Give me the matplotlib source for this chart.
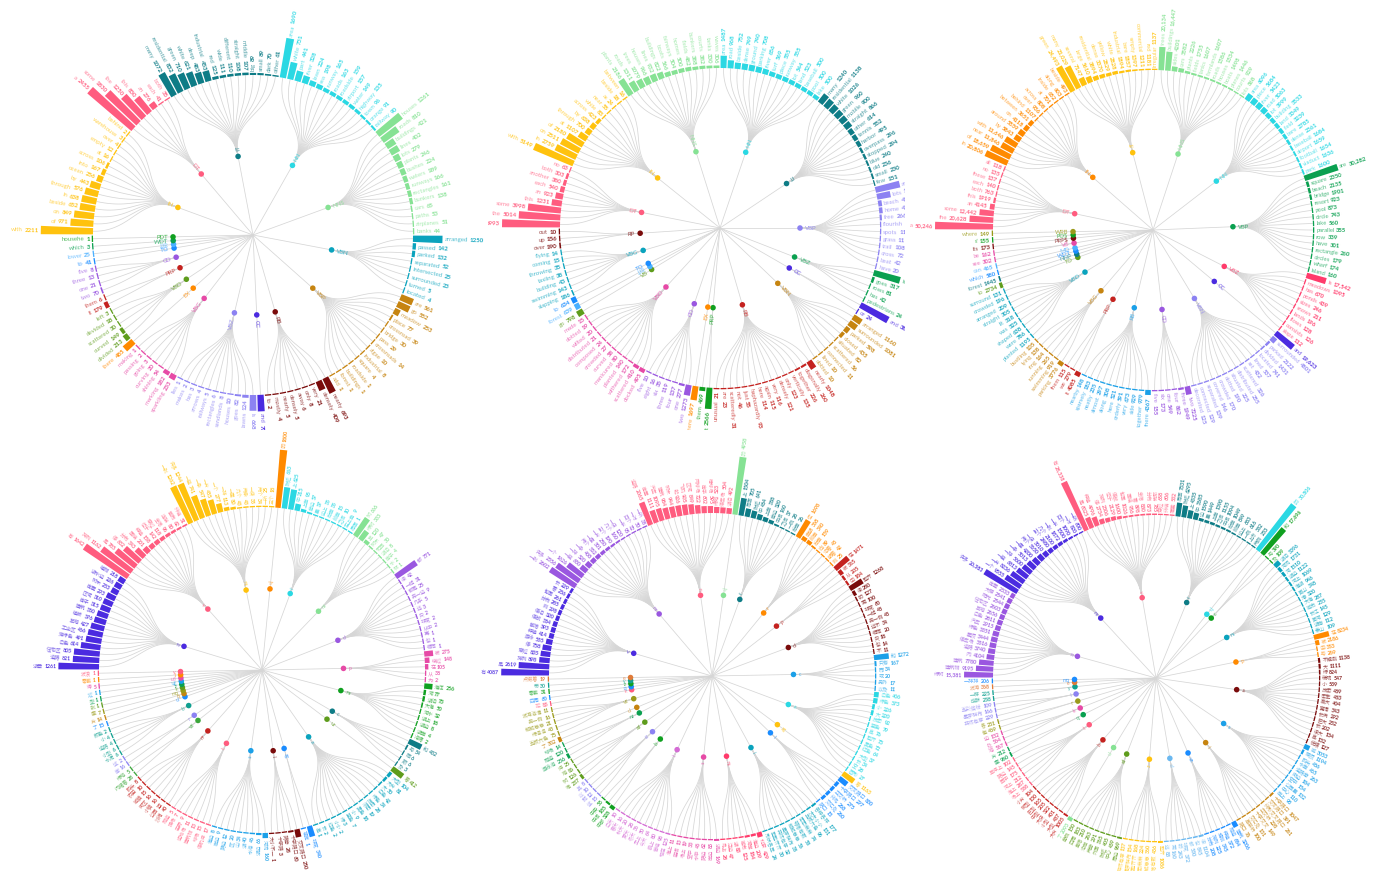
import numpy as np
import matplotlib
matplotlib.use("Agg")
import matplotlib.pyplot as plt
from matplotlib.patches import Wedge
from matplotlib.collections import LineCollection, PatchCollection
from matplotlib.font_manager import FontProperties

plt.rcParams['font.family'] = ['Lato', 'Noto Sans CJK SC', 'DejaVu Sans']

W, H = 1376, 871

# palette
YEL, PNK, TEA, CYA, LGR = '#ffc20e', '#ff5c7f', '#0e7c86', '#2bd8e3', '#86e294'
BTE, OCH, MAR, IND, LAV = '#0aa3bd', '#c68410', '#7a0b0b', '#4b2be0', '#8c82f2'
MAG, ORA, OLI, RED, PUR = '#e64aa6', '#ff8a00', '#5e9c1c', '#c4221f', '#9a57e0'
BLU, SKY, GRN, GR2, OL2 = '#1a8cff', '#1ba0e8', '#0aa050', '#10a020', '#9a9a1a'
LBL, TGR, ORB, ORC, PRD = '#4ab0ff', '#10a090', '#e07b39', '#d46bd4', '#ff3b6b'

# ---- panel 1: English captions, set A ----
p1_tags = ['IN', 'DT', 'JJ', 'NN', 'NNS', 'VBN', 'VBP', 'RB', 'CC', 'VBZ', 'VBG',
           'EX', 'VBD', 'PRP', 'CD', 'TO', 'JJR', 'WDT', 'PDT']
p1_colors = [YEL, PNK, TEA, CYA, LGR, BTE, OCH, MAR, IND, LAV, MAG,
             ORA, OLI, RED, PUR, BLU, LBL, GRN, GR2]
p1_leaves = [
    [('with', 2211), ('of', 971), ('on', 849), ('beside', 652), ('in', 638), ('through', 576),
     ('by', 443), ('ocean', 256), ('into', 167), ('across', 106), ('at', 16), ('empty', 12),
     ('over', 4), ('warehouse', 3), ('behind', 2)],
    [('a', 2455), ('some', 1830), ('the', 1250), ('this', 830), ('an', 276), ('each', 41), ('both', 35)],
    [('many', 1072), ('residential', 832), ('green', 710), ('white', 621), ('deep', 483),
     ('industrial', 453), ('red', 125), ('wide', 111), ('different', 110), ('straight', 108),
     ('middle', 107), ('big', 89), ('small', 89), ('dark', 70), ('other', 61)],
    [('area', 1690), ('white', 731), ('part', 441), ('river', 328), ('lawn', 224), ('sea', 198),
     ('runway', 165), ('roads', 163), ('roadside', 159), ('airport', 157), ('water', 149),
     ('highway', 135), ('town', 96), ('orange', 91), ('railway', 90)],
    [('houses', 1261), ('roads', 810), ('buildings', 421), ('lines', 402), ('lots', 279),
     ('plants', 246), ('bushes', 224), ('waters', 189), ('runways', 166), ('rectangles', 161),
     ('bunkers', 138), ('cars', 65), ('paths', 53), ('airplanes', 51), ('banks', 44)],
    [('arranged', 1250), ('passed', 142), ('parked', 132), ('separated', 52), ('intersected', 25),
     ('surrounded', 23), ('turned', 5), ('located', 4)],
    [('are', 561), ('go', 552), ('meadow', 253), ('place', 77), ('crossroad', 39), ('bridge', 30),
     ('pass', 29), ('crossroads', 14), ('algae', 10), ('industrial', 8), ('square', 4),
     ('roadside', 1), ('buildings', 1), ('forest', 1), ('add', 1)],
    [('nearly', 693), ('densely', 409), ('very', 21), ('only', 8), ('away', 6), ('densely', 5),
     ('nearly', 5), ('mostly', 4), ('to', 2)],
    [('and', 700)],
    [('is', 668), ('lawns', 124), ('goes', 82), ('houses', 10), ('sandlands', 8), ('rectangles', 6),
     ('railways', 5), ('arrows', 4), ('has', 3), ('makes', 2), ('lies', 1)],
    [('sparkling', 233), ('marking', 182), ('shining', 54), ('curving', 20), ('going', 3),
     ('passing', 2), ('making', 1)],
    [('there', 485)],
    [('divided', 213), ('curved', 149), ('scattered', 30), ('devided', 18), ('left', 3)],
    [('it', 179), ('them', 6)],
    [('two', 70), ('one', 21), ('three', 13), ('five', 8)],
    [('to', 41)],
    [('lower', 25)],
    [('which', 3)],
    [('househe', 1)],
]

# ---- panel 2: English captions, set B ----
p2_tags = ['DT', 'IN', 'NNS', 'NN', 'JJ', 'VBP', 'VBZ', 'CC', 'VBN', 'RB', 'PRP', 'EX',
           'CD', 'VBD', 'VB', 'JJR', 'TO', 'VBG', 'RP']
p2_colors = [PNK, YEL, LGR, CYA, TEA, LAV, GRN, IND, OCH, RED, GR2, ORA,
             PUR, MAG, OLI, LBL, BLU, BTE, MAR]
p2_leaves = [
    [('a', 6993), ('the', 5014), ('some', 3998), ('this', 1231), ('an', 923), ('each', 540),
     ('another', 380), ('both', 303), ('no', 63)],
    [('with', 5149), ('in', 2759), ('on', 2511), ('of', 2180), ('at', 1107), ('through', 700),
     ('by', 638), ('across', 423), ('while', 83), ('near', 55), ('as', 24), ('beside', 18),
     ('between', 16)],
    [('plants', 2186), ('roads', 1311), ('trees', 1079), ('houses', 966), ('lines', 932),
     ('buildings', 822), ('boats', 566), ('fairways', 504), ('homes', 500), ('fields', 482),
     ('bunkers', 388), ('courts', 382), ('tanks', 330), ('waves', 306)],
    [('area', 1487), ('road', 968), ('beside', 752), ('dense', 749), ('ground', 740),
     ('parking', 708), ('river', 656), ('turf', 569), ('piece', 555), ('runway', 555),
     ('lot', 544), ('land', 523), ('baseball', 500), ('pool', 500), ('lake', 500)],
    [('many', 1240), ('residential', 1138), ('white', 1026), ('green', 960), ('mobile', 900),
     ('straight', 866), ('other', 614), ('tennis', 552), ('harbor', 495), ('overpass', 296),
     ('stopped', 294), ('blue', 240), ('old', 236), ('small', 230), ('few', 151)],
    [('are', 3000), ('lots', 1650), ('beach', 450), ('home', 420), ('free', 266), ('flourish', 150),
     ('spots', 115), ('grass', 111), ('trail', 108), ('cross', 72), ('beat', 42), ('have', 20)],
    [('is', 3300), ('goes', 317), ('rows', 81), ('has', 42), ('pedestrians', 24)],
    [('and', 3800), ('or', 24)],
    [('arranged', 1160), ('surrounded', 1081), ('parked', 598), ('closed', 435), ('situated', 82),
     ('scattered', 56), ('connected', 11), ('lined', 10), ('dotted', 10)],
    [('nearly', 1048), ('diagonally', 260), ('together', 226), ('vertically', 135), ('only', 123),
     ('densely', 121), ('very', 116), ('again', 115), ('here', 114), ('haphazardly', 93),
     ('just', 55), ('not', 46), ('scatteredly', 31), ('are', 23), ('unusual', 21)],
    [('it', 2566), ('them', 469)],
    [('there', 1697)],
    [('two', 1273), ('one', 277), ('four', 137), ('three', 119), ('six', 35), ('eight', 16),
     ('five', 10)],
    [('docked', 495), ('scattered', 410), ('withered', 172), ('planted', 140), ('manicured', 80),
     ('curved', 58), ('crowded', 27), ('composed', 24), ('distributed', 21), ('wilted', 20),
     ('dotted', 19), ('made', 15)],
    [('go', 798)],
    [('forest', 639)],
    [('to', 634)],
    [('slapping', 186), ('swimming', 143), ('building', 43), ('taxiing', 38), ('throwing', 35),
     ('coming', 15), ('flying', 14)],
    [('over', 190), ('up', 156), ('out', 10)],
]

# ---- panel 3: English captions, set C ----
p3_tags = ['DT', 'IN', 'JJ', 'NNS', 'NN', 'VBP', 'VBZ', 'CC', 'VBN', 'CD', 'RB', 'PRP',
           'VBG', 'VBD', 'TO', 'NNP', 'WDT', 'MD', 'VB', 'PRP$', 'POS', 'WRB']
p3_colors = [PNK, ORA, YEL, LGR, CYA, GRN, PRD, IND, LAV, PUR, SKY, RED,
             OCH, BTE, OLI, TEA, BLU, LBL, MAG, MAR, GR2, OL2]
p3_leaves = [
    [('a', 50246), ('the', 20628), ('some', 12442), ('an', 4145), ('this', 1919), ('both', 763),
     ('each', 140), ('these', 137), ('no', 135), ('all', 118)],
    [('in', 20806), ('of', 18659), ('near', 11846), ('with', 11646), ('by', 5843), ('around', 5559),
     ('on', 4118), ('between', 3651), ('behind', 1107), ('over', 936), ('across', 808),
     ('at', 701), ('inside', 652), ('along', 603), ('beside', 493)],
    [('green', 24493), ('many', 21029), ('several', 7147), ('large', 5610), ('residential', 3894),
     ('dense', 3370), ('yellow', 2829), ('white', 2828), ('industrial', 1894), ('bare', 1857),
     ('empty', 1397), ('commercial', 1211), ('red', 1181), ('irregular', 1137)],
    [('trees', 20134), ('buildings', 16447), ('sides', 4201), ('cars', 3582), ('plants', 2226),
     ('fields', 1755), ('tanks', 1607), ('farmlands', 1607), ('roads', 1586), ('houses', 1534),
     ('boats', 1498), ('planes', 1446), ('courts', 929), ('lots', 868)],
    [('area', 6096), ('piece', 5684), ('river', 5423), ('road', 5063), ('lot', 3999),
     ('building', 3533), ('land', 3349), ('field', 3239), ('bare', 2785), ('dense', 2361),
     ('baseball', 1684), ('airport', 1659), ('football', 1654), ('viaduct', 1636), ('park', 1600)],
    [('are', 30282), ('square', 2350), ('beach', 2135), ('bridge', 1901), ('resort', 923),
     ('pool', 873), ('circle', 743), ('lake', 560), ('parallel', 355), ('row', 339),
     ('have', 301), ('rectangle', 260), ('circles', 179), ('wharf', 174), ('island', 160)],
    [('is', 17542), ('meadows', 1095), ('has', 670), ('ponds', 439), ('sizes', 246),
     ('snows', 211), ('lands', 196), ('flows', 128), ('consists', 126), ('slope', 112)],
    [('and', 19623)],
    [('surrounded', 4801), ('parked', 2122), ('divided', 1431), ('located', 741), ('lined', 537),
     ('set', 432), ('scattered', 326), ('distributed', 255), ('situated', 225), ('dotted', 190),
     ('crowded', 170), ('covered', 146), ('separated', 139), ('connected', 129), ('decorated', 125)],
    [('two', 7225), ('three', 1949), ('four', 862), ('one', 549), ('six', 173), ('five', 155)],
    [('there', 4367), ('together', 979), ('side', 929), ('very', 673), ('orderly', 591),
     ('here', 521), ('along', 308), ('almost', 297), ('neatly', 235), ('sparsely', 183),
     ('nearby', 148)],
    [('it', 4085), ('we', 279), ('them', 115)],
    [('parking', 3776), ('swimming', 919), ('running', 265), ('ring', 164), ('lying', 138),
     ('bustling', 105)],
    [('planted', 1195), ('were', 786), ('shaped', 638), ('was', 325), ('lit', 318),
     ('straight', 305), ('arranged', 209), ('crowded', 196), ('surround', 131)],
    [('to', 2734)],
    [('forest', 1445)],
    [('which', 580)],
    [('can', 465)],
    [('see', 302), ('be', 162)],
    [('its', 173)],
    [("s'", 155)],
    [('where', 149)],
]

# ---- panel 4: Chinese captions, set A ----
p4_tags = ['n', 'v', 'm', 'uj', 'f', 'nz', 'd', 'p', 'ns', 'c', 'uz', 'a', 'zg', 'l', 's', 't',
           'nr', 'vd', 'r', 'b', 'ul', 'q', 'mq', 'k', 'z', 'ug', 'ud', 'i', 'y']
p4_colors = [IND, PNK, YEL, ORA, CYA, LGR, PUR, MAG, GR2, TEA, OLI, BTE, BLU, MAR, SKY, PNK,
             RED, '#3aa63a', LAV, TGR, BLU, OCH, OL2, OLI, GRN, SKY, MAG, ORA, PNK]
p4_leaves = [
    [('湖景', 1261), ('道路', 821), ('住宅区', 805), ('白色', 614), ('深绿色', 491), ('工业区', 466),
     ('草地', 427), ('植被', 376), ('建筑', 350), ('房子', 315), ('区域', 310), ('房屋', 293),
     ('树木', 233), ('湖水边', 226), ('植物', 218)],
    [('有', 1642), ('排列', 1162), ('是', 785), ('停', 632), ('分布', 343), ('围绕', 201),
     ('种植', 158), ('位于', 142), ('穿过', 118), ('坐落', 96), ('连接', 80), ('散布', 62),
     ('环绕', 51)],
    [('一张', 1262), ('许多', 1244), ('一些', 741), ('一条', 547), ('一片', 455), ('一个', 277),
     ('一排', 113), ('一座', 80), ('几个', 43), ('两条', 43), ('一块', 35), ('两个', 34),
     ('一所', 25), ('三个', 18)],
    [('的', 1800)],
    [('附近', 663), ('上', 625), ('中', 215), ('上面', 95), ('旁边', 57), ('里', 37), ('边上', 35),
     ('后面', 35), ('前面', 15), ('之间', 10), ('左上角', 9), ('周围', 1)],
    [('树', 666), ('绿树', 333), ('草', 120), ('树木', 47), ('花园', 30), ('湖泊', 8), ('房子', 4),
     ('水', 2), ('林', 1)],
    [('都', 771), ('很', 42), ('一起', 31), ('都是', 25), ('另一边', 9), ('几乎', 5), ('还', 3),
     ('只', 2), ('非常', 2), ('从中', 2), ('再', 1), ('也', 1), ('相同', 1)],
    [('被', 275), ('绕过', 148), ('在', 105), ('从', 38), ('为', 2)],
    [('海洋', 256), ('河', 77), ('湖泊', 73), ('大海', 50), ('河水', 32), ('湖上', 18), ('湖边', 8),
     ('湖面', 4), ('池塘', 2)],
    [('和', 432), ('与', 54), ('同', 6), ('跟', 6), ('及', 3)],
    [('着', 412)],
    [('大型', 104), ('大片', 81), ('大', 50), ('白色', 42), ('绿色', 34), ('茂密', 28), ('浓密', 19),
     ('黑色', 18), ('小', 9), ('蓝色', 7), ('绿', 3), ('小小', 2), ('红色', 2), ('长', 2), ('高', 1)],
    [('非常', 340), ('视觉', 1)],
    [('交叉路口', 250), ('十字路口', 60), ('路旁', 28), ('十字路', 3), ('大小不一', 1)],
    [('河流', 160), ('湖边', 66), ('水池', 46), ('湖', 40), ('山', 34), ('区', 20), ('路边', 12),
     ('岸边', 9), ('海边', 8)],
    [('停机坪', 17), ('球场', 15), ('建筑物', 13), ('运动场', 11), ('田野', 9), ('操场', 7), ('跑道', 5)],
    [('沙滩', 40), ('公园', 22), ('小镇', 16), ('街区', 16), ('城镇', 15), ('农田', 10), ('码头', 8)],
    [('闪耀着', 28), ('绿地', 5)],
    [('房', 16), ('这', 2)],
    [('水泥', 6), ('小型', 6), ('道路', 4), ('小', 4), ('颜色', 2)],
    [('了', 15)],
    [('片', 14)],
    [('座', 7)],
    [('张', 1)],
    [('型', 1)],
    [('过', 1)],
    [('得', 5)],
    [('零散', 1)],
    [('波浪', 1)],
]

# ---- panel 5: Chinese captions, set B ----
p5_tags = ['v', 'm', 'n', 'uj', 'f', 'r', 'p', 'd', 'c', 'a', 'zg', 'l', 'i', 'ns', 's', 't',
           'b', 'rz', 'ad', 'nz', 'ul', 'vd', 'k', 'q', 'z', 'y', 'e']
p5_colors = [IND, PUR, PNK, LGR, TEA, ORA, RED, MAR, SKY, CYA, YEL, BLU, BTE, PRD, MAG, ORC,
             GR2, LAV, OLI, GRN, OCH, OL2, PNK, BLU, GR2, TGR, ORB]
p5_leaves = [
    [('有', 4087), ('是', 2619), ('排列', 898), ('穿过', 835), ('停', 758), ('游泳', 555),
     ('种植', 414), ('散落', 393), ('停放', 384), ('停泊', 320), ('到', 298), ('分布', 285),
     ('包围', 261), ('看', 236), ('长', 229)],
    [('一张', 2602), ('许多', 2356), ('一个', 1626), ('一些', 650), ('一排', 520), ('一条', 408),
     ('两个', 352), ('一座', 301), ('一片', 250), ('三个', 190), ('几个', 160), ('一块', 120),
     ('一半', 95), ('四个', 72), ('一对', 50), ('一所', 38)],
    [('道路', 2065), ('房屋', 1111), ('汽车', 1095), ('建筑', 984), ('树木', 944), ('船', 926),
     ('飞机', 905), ('区域', 849), ('网球场', 722), ('房子', 602), ('棒球场', 595), ('绿地', 523),
     ('停车场', 504), ('湖泊', 492)],
    [('的', 4958)],
    [('上', 1504), ('周围', 705), ('附近', 641), ('中', 484), ('上面', 388), ('旁边', 320),
     ('中间', 160), ('之间', 37), ('一侧', 28), ('后面', 26)],
    [('位', 1698), ('面朝', 368), ('前面', 340), ('后面', 159), ('向', 89), ('沿着', 48),
     ('朝着', 42), ('到', 25)],
    [('在', 1471), ('被', 365), ('从', 205), ('由', 184)],
    [('整齐', 1268), ('很', 280), ('较', 127), ('更', 100), ('非常', 60), ('一起', 48),
     ('另一侧', 45), ('还不', 34), ('相同', 20), ('只', 18), ('也', 14), ('不', 11)],
    [('和', 1272), ('只有', 167), ('而', 34), ('或', 20), ('另外', 17), ('以及', 11)],
    [('白色', 406), ('绿色', 373), ('小', 226), ('大', 220), ('茂密', 92), ('蓝色', 79), ('高', 76),
     ('整齐', 73), ('黑色', 72), ('红色', 64), ('大型', 37), ('长', 34), ('空', 28), ('圆形', 27)],
    [('着', 1163)],
    [('交叉路口', 850), ('十字路口', 297), ('立交桥', 275), ('环岛', 268), ('交汇处', 260), ('路口', 15)],
    [('各种各样', 177), ('大大小小', 131), ('五颜六色', 96), ('密密麻麻', 74), ('错落有致', 58),
     ('郁郁葱葱', 56), ('星罗棋布', 38), ('井然有序', 32), ('整整齐齐', 30), ('形状各异', 24)],
    [('北京', 429), ('海边', 209), ('河岸', 184), ('城市', 125), ('湖', 83), ('江边', 47), ('岛上', 28)],
    [('湖边', 169), ('岸边', 85), ('路边', 62), ('水中', 45), ('空中', 33), ('场上', 19),
     ('田间', 13), ('海上', 11)],
    [('现在', 125), ('曾经', 98), ('晚上', 80), ('今天', 64), ('早上', 50), ('冬天', 36),
     ('夏天', 28), ('秋天', 20), ('春天', 16), ('白天', 10)],
    [('中部', 328), ('中间', 185), ('中央', 55)],
    [('这', 15), ('那', 12), ('以', 10), ('其', 8)],
    [('堆', 237), ('树', 126), ('地', 86), ('坪', 25)],
    [('游泳池', 236), ('跑道', 120), ('球场', 14)],
    [('了', 302)],
    [('五颜六色', 75), ('绿油油', 43), ('郁郁葱葱', 21), ('另一侧', 16), ('波涛汹涌', 11)],
    [('拉', 85)],
    [('四周', 60)],
    [('零散', 31)],
    [('带', 30)],
    [('点缀着', 19)],
]

# ---- panel 6: Chinese captions, set C ----
p6_tags = ['n', 'm', 'v', 'f', 'uj', 'c', 'ns', 'p', 'a', 's', 'l', 'vn', 'd', 'z', 'ad',
           'ul', 'b', 't', 'q', 'k', 'r', 'i', 'y', 'e', 'mq']
p6_colors = [PUR, IND, PNK, TEA, CYA, GR2, BTE, ORA, MAR, SKY, OCH, BLU, '#6ab8f0', YEL, OLI,
             LGR, RED, PNK, GRN, MAG, OL2, LAV, TGR, ORB, BLU]
p6_leaves = [
    [('绿树', 15381), ('建筑物', 9195), ('建筑', 7780), ('内', 4104), ('道路', 3740), ('停车场', 3516),
     ('屋顶', 3444), ('绿色', 3351), ('汽车', 2915), ('白色', 2811), ('草地', 2656), ('住宅区', 2603),
     ('阳光', 2544), ('大楼', 2541), ('房屋', 2333)],
    [('许多', 20383), ('一个', 9555), ('一片', 8236), ('一些', 6813), ('一排', 5600), ('一条', 5013),
     ('一座', 4200), ('两个', 3650), ('一块', 3010), ('三个', 2480), ('几个', 2100), ('一张', 1872),
     ('一半', 1500), ('四个', 1090), ('一对', 820), ('一所', 600)],
    [('有', 28338), ('是', 6025), ('种植', 4996), ('停', 2734), ('排列', 2306), ('位于', 2129),
     ('停放', 1600), ('包围', 1026), ('围绕', 956), ('看', 898), ('坐落', 880), ('分布', 873),
     ('连接', 785), ('穿过', 658), ('环绕', 606), ('覆盖', 532)],
    [('周围', 7331), ('附近', 6295), ('上', 4335), ('中', 3685), ('边', 1590), ('里', 1449),
     ('上面', 1390), ('之间', 1155), ('中间', 1094), ('后面', 1049), ('前面', 849), ('边上', 683),
     ('一侧', 616), ('上方', 382), ('两侧', 233)],
    [('的', 30806)],
    [('和', 17696), ('与', 390), ('及', 109)],
    [('湖泊', 3396), ('河流', 1731), ('河', 1510), ('湖边', 1122), ('河上', 1069), ('海湖', 946),
     ('黄山', 348), ('港', 320), ('大海', 287), ('城市', 235), ('长江', 145), ('黄河', 129),
     ('湖南', 112), ('泰山', 109)],
    [('在', 8234), ('被', 2186), ('由', 353), ('与', 269)],
    [('不规则', 1138), ('大', 1111), ('绿', 824), ('稀疏', 547), ('小', 539), ('茂密', 489),
     ('密集', 483), ('高大', 404), ('宽阔', 343), ('长满', 292), ('巨大', 232), ('长', 202),
     ('很大', 134), ('高', 132), ('低矮', 127)],
    [('城', 3053), ('楼顶', 1194), ('码头', 486), ('水面', 465), ('道路旁', 263), ('街边', 184),
     ('空中', 154), ('公园里', 132), ('中心', 110), ('岸上', 98)],
    [('十字路口', 1047), ('交叉路口', 391), ('环形交叉路口', 261), ('立交桥', 228), ('十字交叉', 149),
     ('交汇处', 131), ('高架桥', 100), ('路口', 76)],
    [('建筑', 3206), ('跑道', 684), ('种植', 372), ('规划', 345), ('排列', 225), ('分布', 208)],
    [('很', 1104), ('也', 845), ('都', 530), ('非常', 372), ('较', 243), ('更', 160), ('还', 88)],
    [('整齐', 1086), ('错落有致', 436), ('郁郁葱葱', 360), ('密密麻麻', 224), ('整整齐齐', 168),
     ('星罗棋布', 154), ('井然有序', 137)],
    [('周边', 969), ('中心', 459), ('附近', 405), ('外围', 365), ('两旁', 291), ('沿岸', 263),
     ('角落', 210), ('四周', 183), ('旁侧', 150)],
    [('了', 2093)],
    [('大片', 1005), ('大型', 487), ('小型', 401), ('大块', 322), ('中型', 205), ('巨型', 165),
     ('微型', 130), ('小片', 104)],
    [('场上', 388), ('海上', 287), ('河上', 212), ('园中', 175), ('路边', 145), ('草坪上', 102)],
    [('座', 960), ('片', 212)],
    [('地', 567), ('处', 564), ('边', 132)],
    [('每', 469), ('各', 231)],
    [('井然有序', 229), ('星罗棋布', 166), ('五彩缤纷', 109)],
    [('成群', 238), ('一样', 225)],
    [('波涛', 368)],
    [('一排排', 206)],
]

fig = plt.figure(figsize=(W / 100, H / 100), dpi=100)
fig.patch.set_facecolor('white')
renderer = fig.canvas.get_renderer()
LINK = '#d6d6d6'


def fmt(v):
    return f"{v:,}" if v >= 10000 else str(v)


def text_px(s, prop):
    w, _, _ = renderer.get_text_width_height_descent(s, prop, ismath=False)
    return w


def put(ax, r, a, s, right, prop, color, alpha):
    rot = np.degrees(a) if right else np.degrees(a) + 180
    ax.text(r * np.cos(a), r * np.sin(a), s, rotation=rot, rotation_mode='anchor',
            ha='left' if right else 'right', va='center_baseline', fontproperties=prop,
            color=color, alpha=alpha, clip_on=True, zorder=5)


def radial_tree(box, center, tags, colors, leaves, fs, R):
    x0, y0, x1, y1 = box
    cx, cy = center
    ax = fig.add_axes([x0 / W, 1 - y1 / H, (x1 - x0) / W, (y1 - y0) / H])
    ax.set_xlim(x0 - cx, x1 - cx)
    ax.set_ylim(cy - y1, cy - y0)
    ax.set_axis_off()

    n = sum(len(g) for g in leaves)
    step = 2 * np.pi / n
    vmax = max(c for g in leaves for _, c in g)
    bar_max = 58.0
    r_node = 0.5 * R
    r_mid = 0.5 * (r_node + R)
    t = np.linspace(0, 1, 28)[:, None]

    f_word = FontProperties(size=fs)
    f_num = FontProperties(size=fs, weight='bold')
    f_tag = FontProperties(size=fs)
    gap = fs * 0.28 * 100 / 72

    segs, wedges, wcols = [], [], []
    nodes, ncols = [], []
    k = 0
    for tag, col, grp in zip(tags, colors, leaves):
        angs = np.pi - (np.arange(k, k + len(grp)) + 0.5) * step
        k += len(grp)
        a0 = angs.mean()
        u0 = np.array([np.cos(a0), np.sin(a0)])
        node = r_node * u0
        segs.append(np.array([[0.0, 0.0], node]))
        nodes.append(node)
        ncols.append(col)
        put(ax, r_node + 5, a0, tag, np.cos(a0) >= 0, f_tag, col, 0.8)

        for (word, cnt), a in zip(grp, angs):
            u = np.array([np.cos(a), np.sin(a)])
            p1, p2, p3 = r_mid * u0, r_mid * u, R * u
            curve = ((1 - t) ** 3 * node + 3 * (1 - t) ** 2 * t * p1
                     + 3 * (1 - t) * t ** 2 * p2 + t ** 3 * p3)
            segs.append(curve)

            L = max(bar_max * cnt / vmax, 1.3)
            d = np.degrees(a)
            hw = np.degrees(step) * 0.42
            wedges.append(Wedge((0, 0), R + L, d - hw, d + hw, width=L))
            wcols.append(col)

            num = fmt(cnt)
            rt = R + L + 2.0
            right = np.cos(a) >= 0
            if right:
                put(ax, rt, a, word, True, f_word, col, 0.72)
                put(ax, rt + text_px(word, f_word) + gap, a, num, True, f_num, col, 0.95)
            else:
                put(ax, rt, a, num, False, f_num, col, 0.95)
                put(ax, rt + text_px(num, f_num) + gap, a, word, False, f_word, col, 0.72)

    ax.add_collection(LineCollection(segs, colors=LINK, linewidths=0.55, zorder=1))
    ax.add_collection(PatchCollection(wedges, facecolors=wcols, edgecolors='none', zorder=2))
    nodes = np.array(nodes)
    ax.scatter(nodes[:, 0], nodes[:, 1], s=16, c=ncols, zorder=4, linewidths=0)


radial_tree((0, 0, 500, 430), (253, 235), p1_tags, p1_colors, p1_leaves, 4.4, 160)
radial_tree((488, 0, 905, 430), (720, 228), p2_tags, p2_colors, p2_leaves, 4.4, 160)
radial_tree((905, 0, 1376, 430), (1153, 230), p3_tags, p3_colors, p3_leaves, 4.2, 160)
radial_tree((0, 432, 470, 871), (262, 670), p4_tags, p4_colors, p4_leaves, 3.7, 163)
radial_tree((470, 432, 925, 871), (712, 676), p5_tags, p5_colors, p5_leaves, 3.7, 163)
radial_tree((925, 432, 1376, 871), (1156, 678), p6_tags, p6_colors, p6_leaves, 3.7, 163)

fig.savefig('out.png', dpi=100, facecolor='white')
